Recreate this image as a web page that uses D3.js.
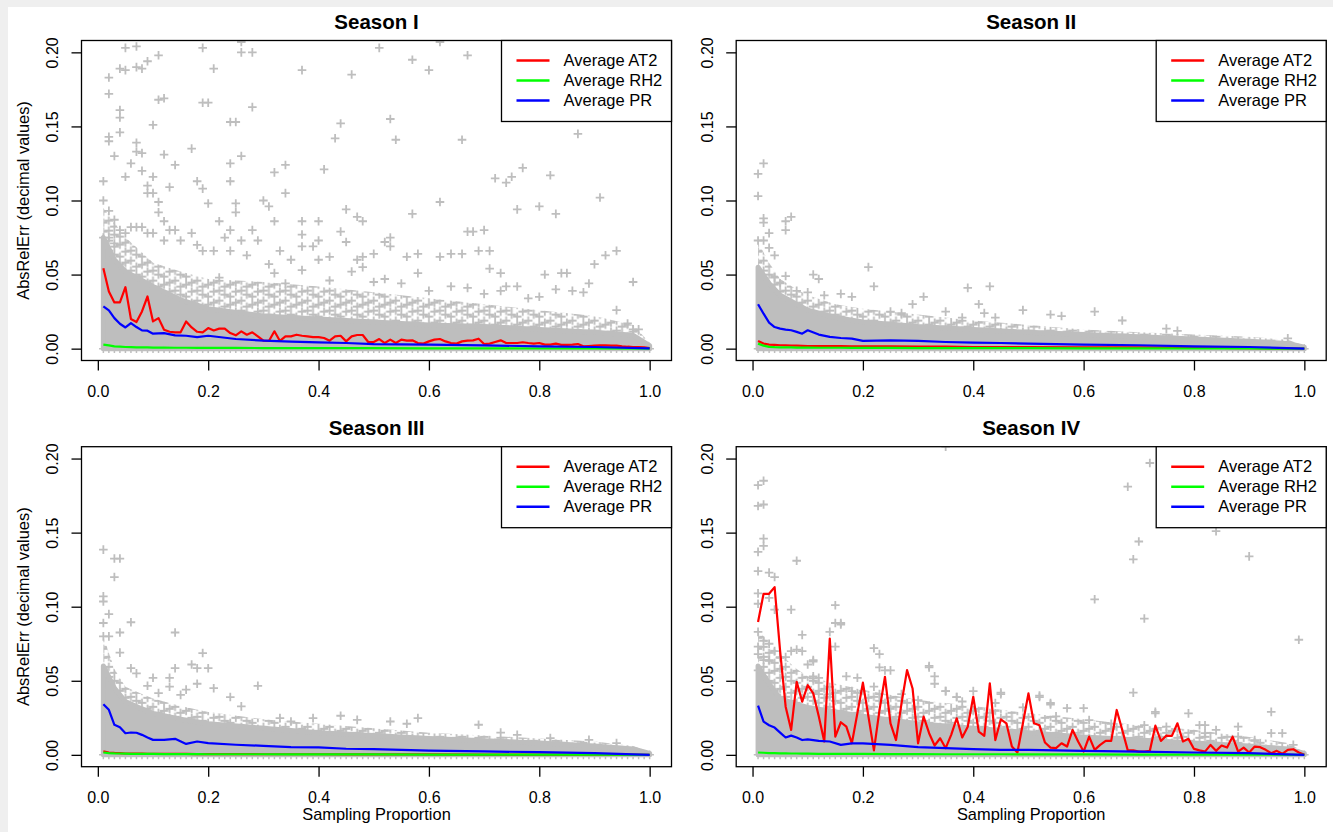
<!DOCTYPE html>
<html>
<head>
<meta charset="utf-8">
<script src="https://cdn.jsdelivr.net/npm/d3@7"></script>
<style>
  body { margin: 0; background: #efefef; }
  svg { display: block; font-family: "Liberation Sans", Arial, Helvetica, sans-serif; }
</style>
</head>
<body>
<svg id="chart" width="1333" height="832"></svg>
<script>
// sampling proportions used by every run
const proportions = [0.01,0.02,0.03,0.04,0.05,0.06,0.07,0.08,0.09,0.10,
  0.11,0.12,0.13,0.14,0.15,0.16,0.17,0.18,0.19,0.20,0.21,0.22,0.23,0.24,0.25,0.26,0.27,0.28,0.29,0.30,
  0.31,0.32,0.33,0.34,0.35,0.36,0.37,0.38,0.39,0.40,0.41,0.42,0.43,0.44,0.45,0.46,0.47,0.48,0.49,0.50,
  0.51,0.52,0.53,0.54,0.55,0.56,0.57,0.58,0.59,0.60,0.61,0.62,0.63,0.64,0.65,0.66,0.67,0.68,0.69,0.70,
  0.71,0.72,0.73,0.74,0.75,0.76,0.77,0.78,0.79,0.80,0.81,0.82,0.83,0.84,0.85,0.86,0.87,0.88,0.89,0.90,
  0.91,0.92,0.93,0.94,0.95,0.96,0.97,0.98,0.99,1.00];
// coarser grid for the smooth averages
const coarseProps = [0.01,0.02,0.03,0.04,0.05,0.06,0.07,0.08,0.09,0.10,0.12,0.14,0.16,0.18,0.20,
  0.25,0.30,0.35,0.40,0.45,0.50,0.60,0.70,0.80,0.90,1.00];
// grid for the edges of the dense cloud of points
const bandProps = [0.01,0.03,0.05,0.08,0.10,0.15,0.20,0.30,0.40,0.50,0.60,0.70,0.80,0.90,0.97,1.00];

const seasonTitles = ["Season I", "Season II", "Season III", "Season IV"];
const legendLabels = ["Average AT2", "Average RH2", "Average PR"];
const xTicks = [0, 0.2, 0.4, 0.6, 0.8, 1.0];
const yTicks = [0, 0.05, 0.10, 0.15, 0.20];

// Season I
const s1AT2 = [0.0543,0.0386,0.0312,0.0312,0.0415,0.020,0.018,0.0251,0.0352,0.0184,
  0.0206,0.0128,0.0114,0.011,0.011,0.0184,0.0143,0.0114,0.011,0.0139,
  0.0123,0.0135,0.0135,0.0105,0.009,0.0117,0.0094,0.011,0.0083,0.0054,
  0.0052,0.0117,0.0052,0.0083,0.0083,0.0094,0.0087,0.0083,0.0078,0.0078,
  0.0072,0.0054,0.0083,0.0087,0.0049,0.0083,0.0092,0.0092,0.0045,0.0045,
  0.0065,0.0038,0.0061,0.0038,0.0061,0.0054,0.0056,0.0038,0.0034,0.0049,
  0.0061,0.0065,0.0049,0.0038,0.0034,0.0049,0.0054,0.0056,0.0067,0.0031,
  0.0034,0.0045,0.0056,0.0038,0.0038,0.0038,0.0043,0.0038,0.0034,0.0038,
  0.0027,0.0027,0.0034,0.0025,0.0025,0.0027,0.0031,0.0016,0.0018,0.002,
  0.0022,0.0022,0.002,0.002,0.0016,0.0013,0.0011,0.0011,0.0009,0.0004];
const s1RH2 = [0.0027,0.0022,0.0015,0.0013,0.0011,0.001,0.0009,0.0009,0.0008,0.0007,0.0007,0.0006,0.0006,
  0.0005,0.0005,0.0005,0.0004,0.0004,0.0003,0.0003,0.0003,0.0002,0.0002,0.0001,0.0001,0];
const s1PR = [0.0285,0.0258,0.0206,0.0168,0.0143,0.0173,0.0146,0.0123,0.0121,0.0101,0.0105,0.009,0.0087,
  0.0078,0.0087,0.0065,0.0054,0.0047,0.0043,0.0038,0.0031,0.0027,0.0022,0.0016,0.0011,0.0002];
const s1Core = [0.075,0.060,0.052,0.046,0.042,0.033,0.027,0.022,0.020,0.018,0.016,0.015,0.013,0.011,0.009,0.002];
const s1Fringe = [0.095,0.085,0.075,0.065,0.058,0.052,0.047,0.045,0.042,0.038,0.034,0.030,0.026,0.022,0.016,0.004];
const s1Points = [
  [0.05,0.203],[0.07,0.204],[0.04,0.189],[0.05,0.188],[0.07,0.19],[0.08,0.189],[0.09,0.194],[0.11,0.198],
  [0.02,0.183],[0.02,0.172],[0.04,0.161],[0.04,0.156],[0.04,0.146],[0.02,0.143],[0.02,0.14],[0.03,0.13],
  [0.06,0.125],[0.07,0.139],[0.07,0.133],[0.08,0.132],[0.08,0.12],[0.05,0.116],[0.10,0.151],[0.11,0.168],
  [0.12,0.169],[0.12,0.131],[0.14,0.124],[0.13,0.109],[0.10,0.116],[0.09,0.11],[0.09,0.105],[0.11,0.099],
  [0.10,0.105],[0.17,0.135],[0.18,0.113],[0.19,0.108],[0.20,0.098],[0.19,0.203],[0.19,0.166],[0.20,0.166],
  [0.21,0.189],[0.24,0.153],[0.25,0.153],[0.26,0.13],[0.24,0.125],[0.24,0.113],[0.26,0.2],[0.28,0.2],
  [0.28,0.163],[0.25,0.098],[0.25,0.092],[0.22,0.086],[0.30,0.1],[0.31,0.096],[0.32,0.119],[0.34,0.124],
  [0.34,0.105],[0.32,0.086],[0.37,0.188],[0.37,0.086],[0.40,0.086],[0.41,0.121],[0.43,0.142],[0.44,0.152],
  [0.46,0.185],[0.45,0.094],[0.47,0.089],[0.48,0.086],[0.51,0.203],[0.53,0.155],[0.54,0.141],[0.57,0.195],
  [0.57,0.091],[0.60,0.188],[0.62,0.099],[0.66,0.141],[0.67,0.198],[0.67,0.079],[0.68,0.079],[0.70,0.08],
  [0.72,0.115],[0.74,0.112],[0.75,0.116],[0.77,0.122],[0.76,0.094],[0.80,0.096],[0.82,0.117],[0.83,0.091],
  [0.87,0.145],[0.91,0.102],[0.90,0.057],[0.92,0.063],[0.94,0.066],[0.97,0.045],[0.62,0.207],[0.26,0.207],
  [0.62,0.062],[0.64,0.064],[0.66,0.064],[0.69,0.066],[0.71,0.066],[0.71,0.054],[0.73,0.051],[0.74,0.042],
  [0.76,0.042],[0.78,0.034],[0.81,0.05],[0.84,0.051],[0.85,0.051],[0.86,0.039],[0.88,0.038],[0.89,0.044],
  [0.83,0.04],[0.80,0.035],[0.58,0.064],[0.58,0.051],[0.56,0.062],[0.53,0.069],[0.53,0.075],[0.52,0.072],
  [0.48,0.062],[0.47,0.06],[0.48,0.055],[0.50,0.064],[0.45,0.072],[0.44,0.079],[0.42,0.062],[0.40,0.06],
  [0.39,0.069],[0.40,0.073],[0.37,0.077],[0.37,0.069],[0.35,0.06],[0.33,0.066],[0.31,0.057],[0.29,0.073],
  [0.28,0.08],[0.27,0.063],[0.26,0.073],[0.24,0.066],[0.24,0.08],[0.23,0.075],[0.22,0.048],[0.21,0.066],
  [0.19,0.066],[0.18,0.07],[0.17,0.078],[0.15,0.073],[0.14,0.08],[0.13,0.08],[0.12,0.073],[0.12,0.086],
  [0.11,0.092],[0.10,0.078],[0.09,0.078],[0.08,0.082],[0.07,0.082],[0.06,0.082],[0.05,0.078],[0.04,0.08],
  [0.03,0.087],[0.02,0.093],[0.01,0.1],[0.01,0.113],[0.01,0.075],[0.02,0.075],[0.03,0.071],[0.32,0.051],
  [0.34,0.044],[0.37,0.053],[0.42,0.046],[0.46,0.052],[0.50,0.045],[0.52,0.047],[0.55,0.044],[0.60,0.039],
  [0.64,0.042],[0.67,0.041],[0.70,0.037],[0.73,0.039],[0.94,0.026],[0.97,0.013],[0.98,0.013],[0.96,0.017]
];

// Season II
const s2AT2 = [0.0052,0.0034,0.0027,0.0025,0.0023,0.0022,0.0021,0.002,0.0019,0.0018,0.0018,0.0017,0.0017,
  0.0016,0.0016,0.0015,0.0014,0.0013,0.0011,0.001,0.001,0.0009,0.0008,0.0007,0.0004,0];
const s2RH2 = [0.0034,0.002,0.0012,0.001,0.0009,0.0008,0.0008,0.0007,0.0007,0.0007,0.0006,0.0006,0.0006,
  0.0005,0.0005,0.0005,0.0004,0.0004,0.0003,0.0003,0.0003,0.0002,0.0002,0.0001,0.0001,0];
const s2PR = [0.030,0.0236,0.0176,0.0146,0.0135,0.0128,0.0124,0.0113,0.0101,0.0124,0.0095,0.0079,0.0072,
  0.0068,0.0052,0.0056,0.0052,0.0045,0.0041,0.0038,0.0034,0.0027,0.0023,0.0016,0.0011,0];
const s2Core = [0.055,0.044,0.036,0.030,0.026,0.021,0.018,0.015,0.013,0.011,0.0095,0.008,0.0065,0.005,0.0035,0.001];
const s2Fringe = [0.072,0.058,0.047,0.040,0.036,0.030,0.027,0.023,0.019,0.016,0.013,0.011,0.0095,0.008,0.006,0.002];
const s2Points = [
  [0.01,0.118],[0.02,0.125],[0.01,0.103],[0.02,0.088],[0.02,0.085],[0.03,0.078],[0.06,0.086],[0.07,0.089],
  [0.06,0.08],[0.04,0.063],[0.03,0.068],[0.01,0.073],[0.02,0.073],[0.06,0.049],[0.11,0.05],[0.12,0.047],
  [0.21,0.055],[0.22,0.042],[0.31,0.035],[0.39,0.041],[0.43,0.042],[0.41,0.030],[0.42,0.024],[0.44,0.021],
  [0.29,0.030],[0.49,0.026],[0.54,0.023],[0.56,0.022],[0.62,0.025],[0.67,0.019],[0.13,0.036],[0.16,0.037],
  [0.18,0.035],[0.25,0.025],[0.27,0.024],[0.35,0.025],[0.38,0.021],[0.75,0.0135],[0.77,0.012],[0.97,0.007],
  [0.08,0.039],[0.10,0.038],[0.04,0.048],[0.05,0.044]
];

// Season III
const s3AT2 = [0.0023,0.0016,0.0013,0.0011,0.0009,0.0009,0.0008,0.0008,0.0007,0.0007,0.0006,0.0006,0.0006,
  0.0005,0.0005,0.0005,0.0004,0.0004,0.0004,0.0003,0.0003,0.0003,0.0002,0.0002,0.0001,0];
const s3RH2 = [0.0016,0.0012,0.001,0.0009,0.0008,0.0007,0.0007,0.0006,0.0006,0.0006,0.0005,0.0005,0.0005,
  0.0005,0.0004,0.0004,0.0004,0.0003,0.0003,0.0003,0.0003,0.0002,0.0002,0.0001,0.0001,0];
const s3PR = [0.0342,0.0304,0.0203,0.0187,0.0146,0.0151,0.0149,0.0135,0.0117,0.0101,0.0101,0.0108,0.0074,
  0.009,0.0079,0.0068,0.0061,0.0052,0.005,0.0041,0.0038,0.0029,0.0023,0.0018,0.0011,0];
const s3Core = [0.060,0.045,0.036,0.031,0.028,0.024,0.021,0.018,0.015,0.013,0.011,0.0095,0.008,0.006,0.004,0.001];
const s3Fringe = [0.080,0.058,0.046,0.041,0.038,0.033,0.029,0.024,0.021,0.018,0.015,0.013,0.011,0.009,0.006,0.002];
const s3Points = [
  [0.01,0.1385],[0.03,0.1325],[0.04,0.1325],[0.03,0.12],[0.01,0.107],[0.01,0.1035],[0.02,0.095],[0.06,0.0895],
  [0.04,0.0826],[0.01,0.089],[0.01,0.08],[0.02,0.08],[0.04,0.069],[0.06,0.0585],[0.07,0.055],[0.09,0.0466],
  [0.10,0.052],[0.13,0.052],[0.14,0.0585],[0.14,0.0826],[0.13,0.046],[0.17,0.061],[0.18,0.0585],[0.19,0.0687],
  [0.20,0.0585],[0.18,0.048],[0.21,0.045],[0.24,0.039],[0.29,0.0466],[0.26,0.0327],[0.44,0.0264],[0.58,0.0248],
  [0.56,0.021],[0.53,0.0225],[0.47,0.0236],[0.69,0.0203],[0.73,0.015],[0.76,0.0135],[0.82,0.0113],[0.89,0.0101],
  [0.94,0.0079],[0.39,0.0248],[0.35,0.0225],[0.33,0.0248],[0.15,0.0405],[0.11,0.0417],[0.16,0.044]
];

// Season IV
const s4AT2 = [0.0897,0.1087,0.1087,0.1132,0.070,0.0325,0.0168,0.0493,0.0359,0.047,
  0.0415,0.026,0.009,0.0785,0.0123,0.022,0.019,0.0078,0.028,0.0487,
  0.026,0.003,0.030,0.0527,0.0213,0.010,0.0348,0.0572,0.0448,0.0078,
  0.0258,0.0146,0.0063,0.0112,0.0045,0.0135,0.0247,0.0117,0.019,0.0392,
  0.0157,0.0128,0.0482,0.010,0.024,0.0213,0.0056,0.0016,0.0213,0.0415,
  0.0213,0.020,0.0083,0.0049,0.0045,0.0078,0.0056,0.0168,0.009,0.0022,
  0.0123,0.0034,0.0067,0.0094,0.0094,0.0303,0.0168,0.003,0.003,0.0022,
  0.0022,0.0027,0.0197,0.0094,0.013,0.0128,0.0213,0.009,0.0108,0.004,
  0.003,0.0022,0.0067,0.0027,0.0063,0.0049,0.0123,0.0022,0.0049,0.0016,
  0.0056,0.0052,0.0034,0.0011,0.0027,0.0007,0.0034,0.0038,0.0016,0.0];
const s4RH2 = [0.0016,0.0014,0.0012,0.0011,0.001,0.001,0.0009,0.0009,0.0008,0.0008,0.0007,0.0007,0.0006,
  0.0006,0.0006,0.0005,0.0005,0.0004,0.0004,0.0004,0.0003,0.0003,0.0002,0.0002,0.0001,0];
const s4PR = [0.0332,0.0224,0.020,0.0184,0.015,0.0117,0.013,0.0117,0.010,0.0105,0.0094,0.009,0.0067,
  0.0078,0.0078,0.0067,0.0052,0.0045,0.0038,0.0034,0.0034,0.0027,0.0022,0.0016,0.0011,0];
const s4Core = [0.060,0.048,0.038,0.034,0.032,0.029,0.026,0.021,0.018,0.015,0.012,0.010,0.008,0.006,0.004,0.001];
const s4Fringe = [0.085,0.075,0.068,0.058,0.053,0.048,0.044,0.037,0.033,0.028,0.024,0.020,0.017,0.012,0.008,0.002];
const s4Points = [
  [0.01,0.182],[0.02,0.185],[0.01,0.168],[0.02,0.169],[0.02,0.146],[0.02,0.141],[0.01,0.137],[0.01,0.124],
  [0.03,0.123],[0.04,0.120],[0.08,0.131],[0.03,0.106],[0.01,0.109],[0.01,0.102],[0.04,0.098],[0.07,0.098],
  [0.09,0.081],[0.15,0.101],[0.16,0.088],[0.14,0.083],[0.15,0.073],[0.06,0.066],[0.08,0.071],[0.10,0.061],
  [0.11,0.063],[0.11,0.053],[0.12,0.052],[0.22,0.072],[0.23,0.068],[0.23,0.059],[0.24,0.057],[0.32,0.06],
  [0.33,0.053],[0.33,0.048],[0.35,0.043],[0.37,0.039],[0.38,0.036],[0.40,0.043],[0.45,0.042],[0.52,0.04],
  [0.54,0.034],[0.57,0.0315],[0.60,0.0315],[0.62,0.105],[0.68,0.181],[0.69,0.132],[0.70,0.144],[0.71,0.092],
  [0.69,0.042],[0.72,0.197],[0.73,0.029],[0.79,0.028],[0.84,0.151],[0.90,0.134],[0.94,0.029],[0.96,0.0146],
  [0.99,0.0777],[0.81,0.02],[0.82,0.0146],[0.88,0.019],[0.35,0.208],[0.15,0.089],[0.16,0.089],[0.19,0.052],
  [0.18,0.043],[0.25,0.057],[0.32,0.059],[0.35,0.043],[0.37,0.039],[0.45,0.041],[0.52,0.039],[0.54,0.035],
  [0.73,0.028],[0.82,0.020],[0.94,0.0146],[0.98,0.0067],[0.11,0.064],[0.09,0.07],[0.07,0.07],[0.05,0.066],
  [0.04,0.07],[0.01,0.083],[0.02,0.077],[0.03,0.075],[0.01,0.073],[0.01,0.068],[0.01,0.057],[0.02,0.064],
  [0.03,0.064],[0.11,0.0516],[0.12,0.041],[0.14,0.041],[0.17,0.053],[0.22,0.046],[0.23,0.041],[0.27,0.041],
  [0.30,0.037],[0.44,0.035],[0.49,0.032],[0.55,0.026],[0.61,0.0235],[0.65,0.021],[0.71,0.020],[0.75,0.019],
  [0.84,0.0168],[0.88,0.0123],[0.91,0.010]
];

const seriesColors = ["#ff0000", "#00ff00", "#0000ff"];
const pointColor = "#bebebe";

const panels = [
  { title: seasonTitles[0], left: 81.5, top: 40.5, at2: [proportions, s1AT2], rh2: s1RH2, pr: s1PR, core: s1Core, fringe: s1Fringe, points: s1Points, yLabel: true, xLabel: false },
  { title: seasonTitles[1], left: 736.2, top: 40.5, at2: [coarseProps, s2AT2], rh2: s2RH2, pr: s2PR, core: s2Core, fringe: s2Fringe, points: s2Points, yLabel: false, xLabel: false },
  { title: seasonTitles[2], left: 81.5, top: 446.7, at2: [coarseProps, s3AT2], rh2: s3RH2, pr: s3PR, core: s3Core, fringe: s3Fringe, points: s3Points, yLabel: true, xLabel: true },
  { title: seasonTitles[3], left: 736.2, top: 446.7, at2: [proportions, s4AT2], rh2: s4RH2, pr: s4PR, core: s4Core, fringe: s4Fringe, points: s4Points, yLabel: false, xLabel: true }
];

const panelW = 590, panelH = 320;
const svg = d3.select("#chart");
const defs = svg.append("defs");

// light grey border like the source screenshot
svg.append("rect").attr("x", 8).attr("y", 7).attr("width", 1325).attr("height", 825).attr("fill", "#fff");

const plusSize = 4.3;
const plusPath = `M${-plusSize},0H${plusSize}M0,${-plusSize}V${plusSize}`;

// offsets (in columns, px) of the markers inside one texture tile
const tileCols = 4, tileH = 20;
const tileMarks = [[0, 3], [1, 12], [2, 6], [3, 16], [0, 14], [2, 18], [3, 8], [1, 2]];

function drawPanel(p, i) {
  // R style axis extension of 4% on both ends
  const x = d3.scaleLinear().domain([-0.0296, 1.0396]).range([p.left, p.left + panelW]);
  const y = d3.scaleLinear().domain([-0.008, 0.208]).range([p.top + panelH, p.top]);

  defs.append("clipPath").attr("id", "clip" + i)
    .append("rect").attr("x", p.left).attr("y", p.top).attr("width", panelW).attr("height", panelH);

  // texture of overlapping "+" markers for the looser part of the cloud
  const step = x(0.02) - x(0.01);
  const pat = defs.append("pattern")
    .attr("id", "cross" + i)
    .attr("patternUnits", "userSpaceOnUse")
    .attr("width", step * tileCols).attr("height", tileH)
    .attr("patternTransform", `translate(${x(0.01) - step / 2},${y(0)})`);
  tileMarks.forEach(([c, cy]) => {
    [-tileH, 0, tileH].forEach(oy => {
      [-step * tileCols, 0, step * tileCols].forEach(ox => {
        pat.append("path")
          .attr("transform", `translate(${step * (c + 0.5) + ox},${cy + oy})`)
          .attr("d", plusPath)
          .attr("stroke", pointColor).attr("stroke-width", 1.8).attr("fill", "none");
      });
    });
  });

  const g = svg.append("g").attr("clip-path", `url(#clip${i})`);
  const area = d3.area().x(d => x(d[0])).y0(y(0)).y1(d => y(d[1]));

  g.append("path")
    .datum(bandProps.map((v, k) => [v, p.fringe[k]]))
    .attr("fill", `url(#cross${i})`)
    .attr("d", area);

  g.append("path")
    .datum(bandProps.map((v, k) => [v, p.core[k]]))
    .attr("fill", pointColor)
    .attr("stroke", pointColor)
    .attr("stroke-width", 5)
    .attr("stroke-linejoin", "round")
    .attr("d", area);

  // bottom row of markers
  g.selectAll("path.zero")
    .data(proportions)
    .join("path")
    .attr("class", "zero")
    .attr("transform", d => `translate(${x(d)},${y(0)})`)
    .attr("d", plusPath)
    .attr("stroke", pointColor)
    .attr("stroke-width", 1.5)
    .attr("fill", "none");

  // scattered markers
  g.selectAll("path.pt")
    .data(p.points)
    .join("path")
    .attr("class", "pt")
    .attr("transform", d => `translate(${x(d[0])},${y(d[1])})`)
    .attr("d", plusPath)
    .attr("stroke", pointColor)
    .attr("stroke-width", 1.8)
    .attr("fill", "none");

  const line = d3.line().x(d => x(d[0])).y(d => y(d[1]));
  const series = [
    p.at2[0].map((v, k) => [v, p.at2[1][k]]),
    coarseProps.map((v, k) => [v, p.rh2[k]]),
    coarseProps.map((v, k) => [v, p.pr[k]])
  ];
  series.forEach((s, k) => {
    g.append("path")
      .datum(s)
      .attr("fill", "none")
      .attr("stroke", seriesColors[k])
      .attr("stroke-width", 2.2)
      .attr("stroke-linejoin", "round")
      .attr("d", line);
  });

  // frame
  svg.append("rect")
    .attr("x", p.left).attr("y", p.top).attr("width", panelW).attr("height", panelH)
    .attr("fill", "none").attr("stroke", "#000").attr("stroke-width", 1.3);

  // axes
  const xAxis = svg.append("g")
    .attr("transform", `translate(0,${p.top + panelH})`)
    .call(d3.axisBottom(x).tickValues(xTicks).tickFormat(d3.format(".1f")).tickSize(10).tickPadding(15));
  xAxis.select(".domain").remove();

  const yAxis = svg.append("g")
    .attr("transform", `translate(${p.left},0)`)
    .call(d3.axisLeft(y).tickValues(yTicks).tickFormat(d3.format(".2f")).tickSize(10));
  yAxis.select(".domain").remove();
  yAxis.selectAll("text")
    .attr("x", null)
    .attr("dy", "0.35em")
    .attr("text-anchor", "middle")
    .attr("transform", "translate(-29,0) rotate(-90)");

  [xAxis, yAxis].forEach(a => {
    a.selectAll("line").attr("stroke", "#000").attr("stroke-width", 1.3);
    a.selectAll("text").attr("font-size", 16).attr("fill", "#000")
      .attr("font-family", "'Liberation Sans', Arial, sans-serif");
  });

  // title
  svg.append("text")
    .attr("x", p.left + panelW / 2)
    .attr("y", p.top - 19)
    .attr("dy", "0.35em")
    .attr("text-anchor", "middle")
    .attr("font-weight", "bold")
    .attr("font-size", 20.5)
    .text(p.title);

  if (p.yLabel) {
    svg.append("text")
      .attr("transform", `translate(23.5,${p.top + panelH / 2}) rotate(-90)`)
      .attr("dy", "0.35em")
      .attr("text-anchor", "middle")
      .attr("font-size", 16.4)
      .text("AbsRelErr (decimal values)");
  }
  if (p.xLabel) {
    svg.append("text")
      .attr("x", p.left + panelW / 2)
      .attr("y", p.top + panelH + 48)
      .attr("dy", "0.35em")
      .attr("text-anchor", "middle")
      .attr("font-size", 16.4)
      .text("Sampling Proportion");
  }

  // legend
  const right = p.left + panelW;
  const legend = svg.append("g");
  legend.append("rect")
    .attr("x", right - 170).attr("y", p.top)
    .attr("width", 170).attr("height", 81)
    .attr("fill", "#fff").attr("stroke", "#000").attr("stroke-width", 1.3);
  legendLabels.forEach((label, k) => {
    const ly = p.top + 20 + k * 20;
    legend.append("line")
      .attr("x1", right - 155).attr("x2", right - 122)
      .attr("y1", ly).attr("y2", ly)
      .attr("stroke", seriesColors[k]).attr("stroke-width", 2.5);
    legend.append("text")
      .attr("x", right - 108)
      .attr("y", ly)
      .attr("dy", "0.35em")
      .attr("font-size", 16.5)
      .text(label);
  });
}

panels.forEach(drawPanel);
</script>
</body>
</html>
